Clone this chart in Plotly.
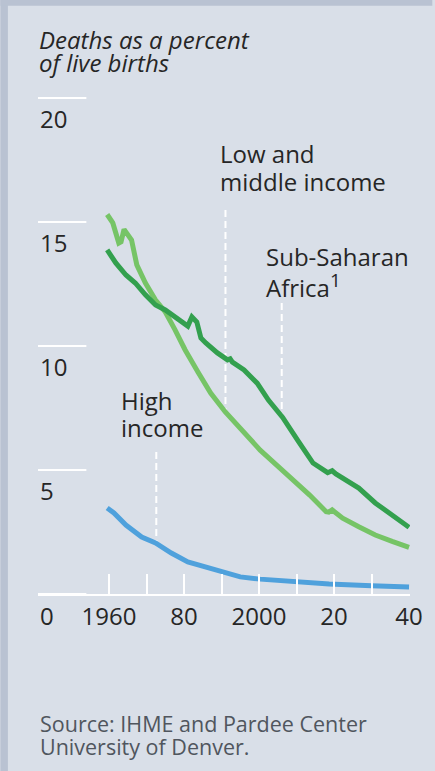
import plotly.graph_objects as go

# Low and middle income (light green)
lmic_years = [1959.5, 1961, 1962.6, 1963.2, 1964, 1966, 1967.4, 1969.7, 1972.4, 1975,
              1977.6, 1980.3, 1983.7, 1987.1, 1991, 1994, 1997, 2000.3, 2004.7, 2009.1,
              2013.5, 2017.9, 2018.6, 2019.5, 2022.3, 2026.6, 2031, 2035.5, 2040]
lmic_values = [15.3, 14.96, 14.15, 14.2, 14.7, 14.27, 13.27, 12.54, 11.85, 11.37,
               10.65, 9.84, 8.95, 8.1, 7.34, 6.85, 6.3, 5.8, 5.2, 4.6,
               3.99, 3.32, 3.3, 3.39, 3.06, 2.71, 2.38, 2.12, 1.88]

# Sub-Saharan Africa (dark green)
ssa_years = [1959.5, 1961.8, 1964.5, 1967, 1969.7, 1972.4, 1975, 1977.6, 1979.7, 1981,
             1982.1, 1983.4, 1984.5, 1985.8, 1988.9, 1991.6, 1992.3, 1992.9, 1996, 1999.5,
             2002.5, 2006.3, 2010.5, 2014.4, 2018.3, 2019.5, 2020.5, 2026.6, 2031, 2035.4, 2040]
ssa_values = [13.87, 13.35, 12.86, 12.54, 12.06, 11.65, 11.45, 11.17, 10.93, 10.8,
              11.17, 10.97, 10.32, 10.12, 9.72, 9.44, 9.48, 9.35, 9.03, 8.5,
              7.82, 7.12, 6.15, 5.28, 4.89, 4.97, 4.84, 4.27, 3.67, 3.19, 2.69]

# High income (blue)
high_years = [1959.5, 1961.3, 1964.5, 1968.7, 1972.4, 1976.6, 1981, 1985.5, 1989.7, 1995,
              2000.3, 2010, 2018.7, 2030, 2040]
high_values = [3.47, 3.27, 2.78, 2.3, 2.06, 1.65, 1.29, 1.09, 0.89, 0.69,
               0.6, 0.48, 0.4, 0.33, 0.28]

x_ticks = [1960, 1970, 1980, 1990, 2000, 2010, 2020, 2030, 2040]
x_tick_text = ["1960", "", "80", "", "2000", "", "20", "", "40"]
y_ticks = [0, 5, 10, 15, 20]

# leader lines: [year, top, bottom]
leader_lmic = [1991.05, 15.48, 7.4]
leader_ssa = [2006.05, 11.73, 7.14]
leader_high = [1972.6, 5.73, 2.06]

BG = "#d9dfe8"
STRIP = "#b9c2d2"
TEXT = "#262626"
FONT = "Open Sans"
SIZE = 24

fig = go.Figure()

for yr, top, bot in (leader_lmic, leader_ssa, leader_high):
    fig.add_scatter(x=[yr, yr], y=[top, bot], mode="lines", hoverinfo="skip",
                    line=dict(color="white", width=2, dash="7px,4px"))

fig.add_scatter(x=high_years, y=high_values, mode="lines", name="High income",
                line=dict(color="#4fa1dc", width=5))
fig.add_scatter(x=lmic_years, y=lmic_values, mode="lines", name="Low and middle income",
                line=dict(color="#76c466", width=5))
fig.add_scatter(x=ssa_years, y=ssa_values, mode="lines", name="Sub-Saharan Africa",
                line=dict(color="#33a04e", width=5))

# short white gridlines and labels on the left
for v in y_ticks:
    fig.add_shape(type="line", xref="paper", yref="y", x0=0, x1=0.13, y0=v, y1=v,
                  line=dict(color="white", width=2), layer="below")
    fig.add_annotation(x=0, xref="paper", y=v, yref="y", text=str(v), showarrow=False,
                       xanchor="left", yanchor="middle", xshift=0, yshift=-21,
                       font=dict(size=SIZE, color=TEXT, family=FONT))

# frame strips (left and top)
fig.add_shape(type="rect", xref="paper", yref="paper", x0=-0.101, x1=-0.0809,
              y0=-0.36, y1=1.19, fillcolor=STRIP, line_width=0, layer="below")
fig.add_shape(type="rect", xref="paper", yref="paper", x0=-0.101, x1=1.06,
              y0=1.167, y1=1.19, fillcolor=STRIP, line_width=0, layer="below")

# in-chart labels, one annotation per line: (text, x, xshift, y)
labels = [
    ("Low and", 1991.05, -7, 17.76),
    ("middle income", 1991.05, -7, 16.62),
    ("Sub-Saharan", 2006.05, -18, 13.62),
    ("Africa<sup><span style='font-size:19px'>1</span></sup>", 2006.05, -18, 12.45),
    ("High", 1972.6, -37, 7.79),
    ("income", 1972.6, -37, 6.71),
]
for text, x, xs, y in labels:
    fig.add_annotation(x=x, y=y, text=text, showarrow=False, xanchor="left", yanchor="middle",
                       xshift=xs, align="left", font=dict(size=SIZE, color=TEXT, family=FONT))

for text, y in (("Deaths as a percent", 1.1002), ("of live births", 1.0538)):
    fig.add_annotation(x=0, xref="paper", y=y, yref="paper", text=f"<i>{text}</i>",
                       showarrow=False, xanchor="left", yanchor="middle", xshift=-1,
                       font=dict(size=SIZE, color=TEXT, family=FONT))

for text, y in (("Source: IHME and Pardee Center", -0.2577), ("University of Denver.", -0.302)):
    fig.add_annotation(x=0, xref="paper", y=y, yref="paper", text=text, showarrow=False,
                       xanchor="left", yanchor="middle", xshift=0,
                       font=dict(size=21.5, color="#50565e", family=FONT))

fig.update_layout(
    width=435, height=771,
    margin=dict(l=38, r=20, t=90, b=177),
    paper_bgcolor=BG, plot_bgcolor=BG,
    showlegend=False,
    font=dict(family=FONT, color=TEXT),
    xaxis=dict(range=[1941.05, 2040.26], tickvals=x_ticks, ticktext=x_tick_text,
               ticks="inside", ticklen=20, tickwidth=2, tickcolor="white",
               showline=True, linecolor="white", linewidth=2,
               showgrid=False, zeroline=False, tickfont=dict(size=SIZE, color=TEXT)),
    yaxis=dict(range=[0, 20.32], showticklabels=False, showgrid=False, zeroline=False,
               showline=False, ticks=""),
)

fig.write_html("out.html", config={"displayModeBar": False},
               post_script="document.body.style.margin='0';document.body.style.overflow='hidden';")
